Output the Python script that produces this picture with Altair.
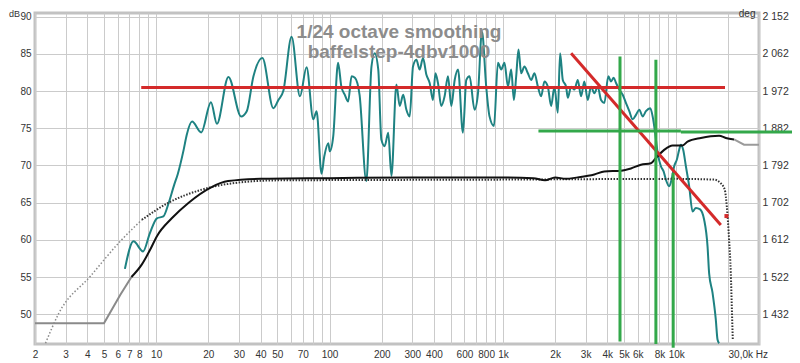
import altair as alt
import pandas as pd

# ---------------- data ----------------
# measured response (teal), 1/24 octave smoothing
teal_freq = [6.6, 7.4, 8.4, 9.2, 10.1, 11.0, 11.8, 12.7, 13.3, 14.4, 15.0, 16.1, 18.2, 20.7, 22.4,
             26.1, 30.9, 33.3, 36.4, 41.0, 47.4, 50.7, 54.1, 60.4, 67.5, 73.7, 80.6, 84.2, 89.9,
             93.2, 98.3, 100.4, 105, 112, 117, 122.5, 128, 134, 140, 149, 163, 174.5, 182, 191,
             199, 208, 218, 227.5, 243, 254, 266, 277.5, 290, 303, 317, 331, 346, 362, 378, 395,
             408, 422, 441, 461, 482, 504, 527, 551, 588, 615, 642, 686, 718, 757, 801, 837, 888,
             936, 978, 1021, 1069, 1116, 1157, 1193, 1230, 1274, 1331, 1393, 1456, 1520, 1591,
             1661, 1736, 1816, 1897, 1982, 2073, 2137, 2215, 2314, 2367, 2474, 2584, 2702, 2823,
             2949, 3085, 3223, 3368, 3523, 3681, 3846, 4055, 4203, 4355, 4491, 4691, 4908, 5128,
             5358, 5603, 5854, 6116, 6397, 6683, 7075, 7305, 7531, 7805, 8154, 8450, 8711, 9101,
             9396, 9725, 10080, 10390, 10630, 10960, 11360, 11870, 12410, 12970, 13730, 14480,
             15150, 15470, 16180, 16900, 17290, 17660]
teal_db = [56.1, 59.8, 58.45, 60.9, 62.9, 63.15, 64.95, 67.4, 68.8, 72.1, 74.1, 75.9, 74.45, 78.5, 75.6,
           81.9, 76.6, 77.3, 82.0, 84.45, 77.7, 78.8, 80.0, 87.3, 79.3, 83.2, 76.2, 77.3, 68.9,
           71.2, 73.0, 71.9, 73.9, 83.8, 80.6, 79.5, 78.6, 82.0, 81.8, 79.5, 67.9, 83.3, 85.1, 82.9,
           73.5, 72.6, 74.4, 68.6, 80.9, 78.0, 79.5, 77.5, 76.6, 83.3, 84.2, 82.9, 84.45, 82.2, 81.1, 78.8,
           82.4, 81.1, 78.0, 79.3, 82.0, 78.0, 81.5, 82.9, 74.4, 81.5, 82.0, 77.5, 79.7, 88.0, 80.6, 76.6, 75.3,
           83.8, 82.9, 83.8, 80.6, 82.9, 78.8, 82.0, 85.6, 82.4, 83.3, 82.4, 81.5, 82.4, 80.6,
           79.3, 81.3, 80.6, 78.0, 80.6, 77.1, 85.1, 81.5, 80.6, 79.1, 80.6, 80.2, 81.5, 79.3,
           81.3, 78.8, 80.6, 79.7, 80.6, 78.8, 78.4, 82.0, 81.3, 81.8, 81.1, 80.2, 79.5, 78.4,
           77.3, 76.2, 76.8, 77.5, 76.6, 77.3, 77.7, 76.6, 74.6, 71.7, 69.9, 69.2, 68.1, 67.2,
           68.1, 69.9, 70.8, 72.1, 72.8, 72.1, 69.9, 67.2, 63.8, 64.3, 64.1, 62.7,
           59.1, 55.5, 52.9, 49.3, 46.6, 46.1]

# black solid curve (grey at both extrapolated ends)
grey_lo_freq = [2, 5.0, 6.2, 7.2]
grey_lo_db = [48.8, 48.8, 52.6, 55.0]
black_freq = [7.2, 8.27, 9.24, 10.1, 12.3, 15.4, 20.5, 26, 40, 100, 300, 1000, 1500, 1750, 2000,
              2300, 2700, 3368, 3846, 4800, 5478, 6256, 7141, 7628, 8517, 9521, 10870, 11610,
              13860, 17660, 19300, 21540]
black_db = [55.0, 56.7, 58.7, 60.5, 62.9, 65.0, 67.0, 67.9, 68.2, 68.3, 68.4, 68.4, 68.3, 68.0, 68.4,
            68.2, 68.4, 68.8, 69.2, 69.3, 69.6, 70.1, 70.3, 71.0, 72.1, 72.7, 72.7, 73.2,
            73.7, 74.0, 73.7, 73.5]
grey_hi_freq = [21540, 24590, 30000]
grey_hi_db = [73.5, 72.8, 72.8]

# dotted target curve
dot_lo_freq = [2.3, 2.74, 4.17, 6.2, 8.27]
dot_lo_db = [46.1, 50.1, 55.1, 59.8, 62.7]
dot_freq = [8.27, 11.79, 18.33, 28.5, 50, 1000, 10000, 16540, 18070, 19060, 19560, 20170, 20630, 20900, 21180]
dot_db = [62.7, 65.0, 66.75, 67.65, 68.0, 68.1, 68.2, 68.1, 67.6, 66.7, 64.5, 60.0, 55.5, 51.1, 46.6]

# red guide lines
red_seg = ["h", "h", "d", "d"]
red_freq = [8.2, 19100, 2474, 18070]
red_db = [80.5, 80.5, 85.1, 62.0]
red_pt_freq = [19470]
red_pt_db = [63.2]

# green guide lines
green_seg = ["v1", "v1", "v2", "v2", "v3", "v3", "h1", "h1", "h2", "h2"]
green_freq = [4735, 4735, 7628, 7628, 9596, 9596, 1603, 10630, 10630, 52150]
green_db = [84.66, 46.35, 84.2, 46.0, 69.0, 45.5, 74.64, 74.64, 74.5, 74.5]

# axis ticks / labels
FMIN, FMAX = 2, 30000
DBMIN, DBMAX = 46, 90.5
label_vals = [2, 3, 4, 5, 6, 7, 8, 10, 20, 30, 40, 50, 70, 100, 200, 300, 400, 600, 800,
              1000, 2000, 3000, 4000, 5000, 6000, 8000, 10000]
label_txt = ["2", "3", "4", "5", "6", "7", "8", "10", "20", "30", "40", "50", "70", "100", "200",
             "300", "400", "600", "800", "1k", "2k", "3k", "4k", "5k", "6k", "8k", "10k"]
db_vals = [50, 55, 60, 65, 70, 75, 80, 85, 90]
end_label = ["30,0k Hz"]
title_lines = ["1/24 octave smoothing", "baffelstep-4dbv1000"]

# ---------------- chart ----------------
FONT = "Liberation Sans"
W, H = 724, 331

xs = alt.Scale(type="log", domain=[FMIN, FMAX], nice=False)
ys = alt.Scale(domain=[DBMIN, DBMAX], nice=False, zero=False)

grid_vals = [m * 10 ** e for e in range(0, 5) for m in range(1, 10) if FMIN <= m * 10 ** e <= FMAX]
x_expr = "''"
for v, t in reversed(list(zip(label_vals, label_txt))):
    x_expr = f"datum.value == {v} ? '{t}' : ({x_expr})"

x_axis = alt.Axis(values=grid_vals, labelExpr=x_expr, grid=True, gridColor="#cbcbcb", gridWidth=1,
                  ticks=False, domain=False, labelFont=FONT, labelFontSize=10, labelColor="#333333",
                  labelPadding=5, labelOverlap=False, labelFlush=False, title=None, orient="bottom")
y_left = alt.Axis(values=db_vals, orient="left", grid=True, gridColor="#cbcbcb", gridWidth=1,
                  ticks=False, domain=False, labelFont=FONT, labelFontSize=10, labelColor="#333333",
                  labelPadding=4, title="dB", titleAngle=0, titleX=-21, titleY=0,
                  titleAlign="center", titleBaseline="middle", titleFont=FONT, titleFontSize=9,
                  titleFontWeight="normal", titleColor="#333333")
y_right = alt.Axis(values=db_vals, orient="right", grid=False, ticks=False, domain=False,
                   labelExpr="replace(format(2152 - (90 - datum.value) * 18, ','), ',', ' ')",
                   labelFont=FONT, labelFontSize=10.5, labelColor="#333333", labelPadding=3,
                   title="deg", titleAngle=0, titleX=-4, titleY=0, titleAlign="right",
                   titleBaseline="middle", titleFont=FONT, titleFontSize=10,
                   titleFontWeight="normal", titleColor="#333333")


def df(f, d):
    return pd.DataFrame({"f": f, "db": d})


def line(data, color, width=2, dash=None, xaxis=None, yaxis=None, detail=None, interp="monotone"):
    kw = dict(color=color, strokeWidth=width, interpolate=interp)
    if dash:
        kw["strokeDash"] = dash
        kw["strokeCap"] = "butt"
    enc = dict(x=alt.X("f:Q", scale=xs, axis=xaxis), y=alt.Y("db:Q", scale=ys, axis=yaxis))
    if detail:
        enc["detail"] = alt.Detail(detail)
    return alt.Chart(data).mark_line(**kw).encode(**enc)


teal = line(df(teal_freq, teal_db), "#1e8282", 2, xaxis=x_axis, yaxis=y_left)
black = line(df(black_freq, black_db), "#111111", 2, yaxis=y_right)
grey_lo = line(df(grey_lo_freq, grey_lo_db), "#8a8a8a", 2, interp="linear")
grey_hi = line(df(grey_hi_freq, grey_hi_db), "#9a9a9a", 2, interp="linear")
dot_lo = line(df(dot_lo_freq, dot_lo_db), "#8a8a8a", 1.5, dash=[1.5, 2])
dot = line(df(dot_freq, dot_db), "#333333", 2, dash=[1.5, 1.5])

red_df = pd.DataFrame({"f": red_freq, "db": red_db, "seg": red_seg})
red = line(red_df, "#d42a2a", 3, detail="seg", interp="linear")
red_pt = alt.Chart(df(red_pt_freq, red_pt_db)).mark_square(color="#d42a2a", size=16, opacity=1).encode(
    x=alt.X("f:Q", scale=xs, axis=None), y=alt.Y("db:Q", scale=ys, axis=None))

green_df = pd.DataFrame({"f": green_freq, "db": green_db, "seg": green_seg})
green = line(green_df, "#33a84a", 3, detail="seg", interp="linear")

end_df = pd.DataFrame({"f": [FMAX], "db": [DBMIN], "t": end_label})
end_txt = alt.Chart(end_df).mark_text(align="right", baseline="middle", dx=9, dy=11, font=FONT,
                                       fontSize=10, color="#333333").encode(
    x=alt.X("f:Q", scale=xs, axis=None), y=alt.Y("db:Q", scale=ys, axis=None), text="t:N")

chart = alt.layer(
    teal, grey_lo, dot_lo, dot, black, grey_hi, red, red_pt, green, end_txt
).resolve_axis(x="independent", y="independent").properties(
    width=W, height=H,
    autosize=alt.AutoSizeParams(type="none"),
    padding={"left": 27, "top": 5, "right": 33, "bottom": 19},
    background="white",
    title=alt.TitleParams(text=title_lines, anchor="middle", orient="top", frame="group",
                          font=FONT, fontSize=19, fontWeight="bold", color="#8c8c8c",
                          lineHeight=20, baseline="top", offset=0, dy=54, dx=2),
).configure_view(stroke="#c2c2c2", strokeWidth=3)

chart.save("out.html", embed_options={"renderer": "svg", "actions": False})
